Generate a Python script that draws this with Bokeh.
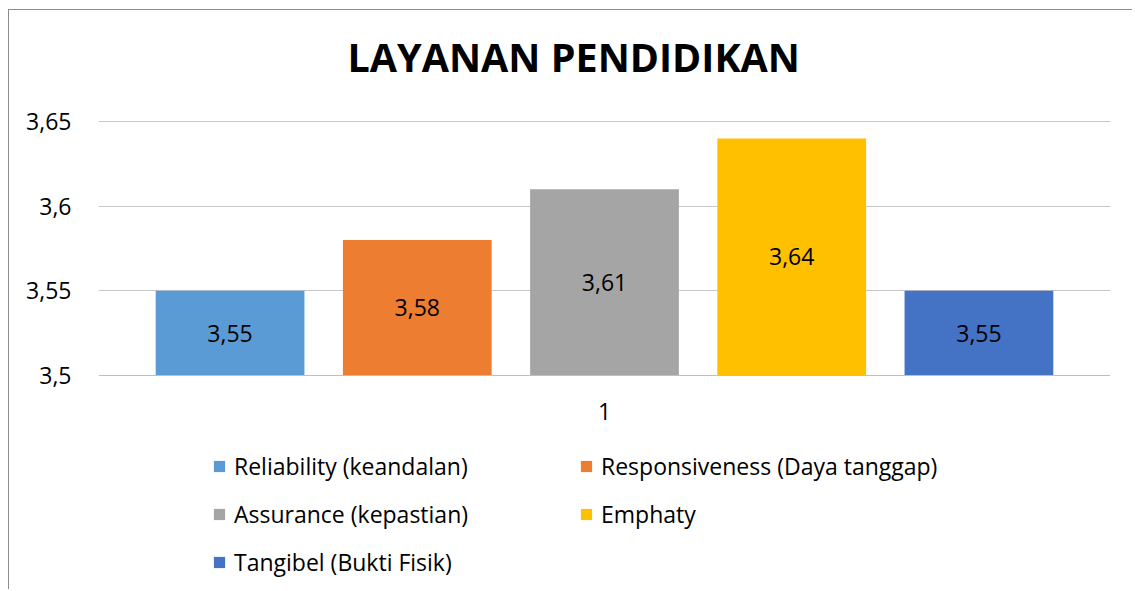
from bokeh.plotting import figure
from bokeh.models import (ColumnDataSource, Range1d, FactorRange, FixedTicker, Legend, LegendItem,
                          CustomJSTickFormatter, CategoricalAxis, Title)
from bokeh.transform import dodge
from bokeh.core.properties import value
from bokeh.embed import file_html
from bokeh.resources import INLINE

title_text = "LAYANAN PENDIDIKAN"
category = ["1"]
series = ["Reliability (keandalan)", "Responsiveness (Daya tanggap)",
          "Assurance (kepastian)", "Emphaty", "Tangibel (Bukti Fisik)"]
values = [3.55, 3.58, 3.61, 3.64, 3.55]
value_labels = ["3,55", "3,58", "3,61", "3,64", "3,55"]
colors = ["#5B9BD5", "#ED7D31", "#A5A5A5", "#FFC000", "#4472C4"]
y_ticks = [3.5, 3.55, 3.6, 3.65]
y_tick_labels = ["3,5", "3,55", "3,6", "3,65"]
y_base = 3.5

FONT = "Open Sans"
FS = "23px"
W, H = 1124, 580

p = figure(width=W, height=H, output_backend="svg", toolbar_location=None,
           x_range=FactorRange(factors=category, range_padding=0),
           y_range=Range1d(3.37304, 3.6506),
           x_axis_location=None,
           min_border_left=89, min_border_right=23, min_border_top=110, min_border_bottom=0,
           styles={"margin-left": "8px", "margin-top": "9px",
                   "border-left": "1px solid #8c8c8c", "border-top": "1px solid #8c8c8c"})
p.outline_line_color = None

# spacer between the chart title and the plot area
p.add_layout(Title(text=" ", text_font_size="1px", standoff=34), "above")

p.title.text = title_text
p.title.align = "left"
p.title.offset = 249
p.title.standoff = 0
p.title.text_font = FONT
p.title.text_font_size = "39.5px"
p.title.text_font_style = "bold"
p.title.text_color = "#000000"

offsets = [-0.37, -0.185, 0.0, 0.185, 0.37]
items = []
for name, v, lab, c, off in zip(series, values, value_labels, colors, offsets):
    src = ColumnDataSource(dict(x=category, top=[v], bottom=[y_base],
                                mid=[(y_base + v) / 2], label=[lab]))
    r = p.vbar(x=dodge("x", off, range=p.x_range), top="top", bottom="bottom",
               width=0.147, source=src, fill_color=c, line_color=None)
    p.text(x=dodge("x", off, range=p.x_range), y="mid", text="label", source=src,
           text_align="center", text_baseline="middle", text_font=value(FONT),
           text_font_size=FS, text_color="#000000")
    items.append(LegendItem(label=name, renderers=[r]))

legend = Legend(items=items, orientation="horizontal", ncols=2, location=(114, 12),
                glyph_width=14, glyph_height=14, label_standoff=8, label_width=329,
                label_height=26, spacing=16, padding=0, margin=0,
                border_line_color=None, background_fill_alpha=0,
                label_text_font=FONT, label_text_font_size=FS, label_text_color="#000000")
p.add_layout(legend, "center")

# y axis
p.yaxis.ticker = FixedTicker(ticks=y_ticks)
p.yaxis.formatter = CustomJSTickFormatter(args=dict(t=y_ticks, l=y_tick_labels), code="""
for (let i = 0; i < t.length; i++) { if (Math.abs(t[i] - tick) < 1e-9) return l[i]; }
return "";
""")
p.yaxis.axis_line_color = None
p.yaxis.major_tick_line_color = None
p.yaxis.minor_tick_line_color = None
p.yaxis.major_tick_out = 0
p.yaxis.major_tick_in = 0
p.yaxis.major_label_standoff = 27
p.yaxis.major_label_text_font = FONT
p.yaxis.major_label_text_font_size = FS
p.yaxis.major_label_text_color = "#000000"

# x axis sitting on the 3.5 baseline
xax = CategoricalAxis(fixed_location=y_base)
xax.axis_line_color = "#bfbfbf"
xax.major_tick_line_color = None
xax.minor_tick_line_color = None
xax.major_tick_out = 0
xax.major_tick_in = 0
xax.major_label_standoff = 27
xax.major_label_text_font = FONT
xax.major_label_text_font_size = FS
xax.major_label_text_color = "#000000"
p.add_layout(xax, "below")

p.xgrid.grid_line_color = None
p.ygrid.grid_line_color = "#c6c6c6"
p.ygrid.ticker = FixedTicker(ticks=y_ticks[1:])

open("out.html", "w").write(file_html(p, INLINE))
